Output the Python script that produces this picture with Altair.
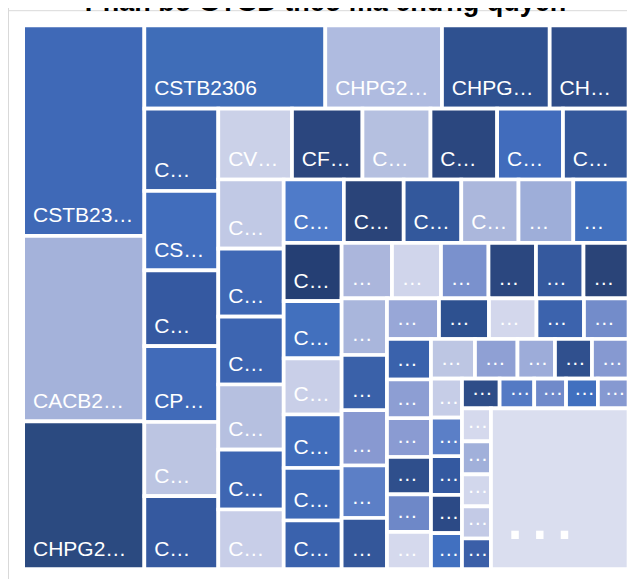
import altair as alt
import pandas as pd

TITLE = "Phân bổ GTGD theo mã chứng quyền"

# Covered-warrant codes, in the order the treemap lays them out ("Khác" = others)
codes = [
    "CSTB2305", "CACB2302", "CHPG2314",
    "CSTB2306", "CHPG2313", "CHPG2316", "CHPG2318",
    "CMWG2304", "CSTB2307", "CMBB2305", "CPOW2303", "CMSN2304", "CMWG2305",
    "CVRE2305", "CFPT2304", "CVHM2304", "CTCB2304", "CVNM2304", "CVIB2303",
    "CHPG2315", "CSTB2308", "CVPB2304", "CTPB2303", "CACB2304", "CFPT2305",
    "CMBB2306", "CVHM2305", "CNVL2302", "CVJC2302", "CKDH2303", "CDIG2302",
    "CMSN2305", "CPDR2302", "CGMD2302", "CMWG2306", "CSHB2301", "CLPB2302",
    "CVIC2302", "CDPM2301", "CSSB2301", "CVRE2306", "CTCB2305", "CVNM2305",
    "CHPG2317", "CSTB2309", "CMBB2307", "CVPB2305", "CPOW2304",
    "CACB2305", "CFPT2306", "CMSN2306", "CTPB2304", "CVHM2306",
    "CNVL2303", "CKDH2304", "CVJC2303", "CDIG2303", "CGMD2303", "CPDR2303",
    "CSHB2302", "CLPB2303", "CVIB2304", "CHPG2319", "CSTB2310",
    "CMWG2307", "CVRE2307", "CTCB2306", "CMBB2308", "CVNM2306",
    "CFPT2307", "CACB2306", "CVPB2306", "CPOW2305", "CMSN2307",
    "CVHM2307", "CTPB2305", "CDPM2302", "CSSB2302", "CVIC2303",
    "Khác",
]

# Trading value (GTGD), tỷ đồng - estimated from the tile areas
values = [
    25.494, 22.502, 17.900,
    15.064, 9.715, 8.966, 6.564,
    6.086, 5.864, 5.609, 5.609, 5.483, 5.398,
    5.218, 4.990, 4.816, 4.719, 4.662, 4.641,
    4.526, 4.441, 4.441, 4.264, 3.911, 3.901,
    3.811, 3.791, 3.649, 3.625, 3.471, 3.500,
    3.378, 3.315, 3.254, 3.100, 3.042, 2.819,
    2.794, 2.720, 2.636, 2.636, 2.636, 2.500,
    2.569, 2.506, 2.506, 2.381, 2.320,
    2.114, 2.033, 1.931, 1.931, 1.811,
    1.782, 1.705, 1.705, 1.646, 1.646, 1.643,
    1.747, 1.687, 1.489, 1.469, 1.451,
    1.205, 1.200, 1.195, 1.185, 1.120,
    1.118, 1.028, 0.946, 0.946, 0.910,
    0.957, 0.957, 0.928, 0.928, 0.889,
    22.111,
]

# Tile colours (style), one per code
colors = [
    "#3f69b7", "#a4b2da", "#2b4a80",
    "#3f6db8", "#afbbe0", "#2f5190", "#2f4d89",
    "#3a61a9", "#416dbc", "#3559a1", "#416bb9", "#bcc5e2", "#35599f",
    "#cbd1e8", "#2b467e", "#b5c0e0", "#2b477f", "#416cbc", "#34589b",
    "#c1c9e5", "#3f68b5", "#3d65b1", "#b6c0e0", "#3e66b2", "#c8cee8",
    "#4f7bc9", "#2a4479", "#33589c", "#abb7dc", "#9eaed9", "#4270bd",
    "#253f74", "#4270be", "#c9cfe8", "#416dbb", "#3e69b6", "#3a62ad",
    "#abb6dc", "#d0d5eb", "#7a91cd", "#2b477f", "#35599e", "#2a4478",
    "#a9b6dc", "#3a61a9", "#8899d1", "#5c7fc6", "#34579a",
    "#98a7d7", "#2e5190", "#d3d7ec", "#3c63ad", "#738cca",
    "#3a62ac", "#8d9ed3", "#8a9bd2", "#2f4f8c", "#6e88c8", "#d5d9ed",
    "#bdc6e3", "#8fa0d4", "#9dacd9", "#30508e", "#8699d1",
    "#c6cde7", "#5b7fc7", "#3459a0", "#2c4a86", "#4170c0",
    "#2e4d88", "#547ac4", "#708aca", "#4170bf", "#8699d1",
    "#d5d9ed", "#a1b0da", "#d2d7ec", "#c3cae6", "#3b5fa8",
    "#dadeef",
]

PLOT_W, PLOT_H = 619, 600                 # svg must not exceed the page width
MAP_X, MAP_Y, MAP_W, MAP_H = 15.15, 17.45, 605.4, 543.7
GAP = 3.7
LABEL_PAD = 8.0
LABEL_SIDE = 16.8
BASE_FS, OTHER_FS = 21, 78
ELLIPSIS_EM, C_ELLIPSIS_EM = 1.0, 1.722    # advance of "…" and "C…" in em
FRAME_X, FRAME_Y = 0.5, 2.7
TITLE_X, TITLE_Y = 317.5, 3.0


def squarify(vals, x, y, w, h):
    """Squarified treemap with alternating direction (column first)."""
    total = float(sum(vals))
    areas = [v * w * h / total for v in vals]
    out = []
    st = {"x": x, "y": y, "w": w, "h": h, "dir": 0}

    def place(row, last):
        s = sum(row)
        if st["dir"] == 0:
            cw = st["w"] if last else s / st["h"]
            cy = st["y"]
            for a in row:
                ch = a / cw
                out.append((st["x"], cy, st["x"] + cw, cy + ch))
                cy += ch
            st["x"] += cw
            st["w"] -= cw
        else:
            rh = st["h"] if last else s / st["w"]
            cx = st["x"]
            for a in row:
                rw = a / rh
                out.append((cx, st["y"], cx + rw, st["y"] + rh))
                cx += rw
            st["y"] += rh
            st["h"] -= rh
        st["dir"] = 1 - st["dir"]

    row = []
    for a in areas:
        if row:
            s = sum(row)
            side = st["h"] if st["dir"] == 0 else st["w"]
            # keep adding while the previous tile's aspect ratio does not worsen
            if s * (s + a) > row[-1] * side * side:
                place(row, False)
                row = []
        row.append(a)
    place(row, True)
    return out


cells = squarify(values, MAP_X, MAP_Y, MAP_W, MAP_H)
recs = []
for code, val, (x0, y0, x1, y1) in zip(codes, values, cells):
    fs = OTHER_FS if code == "Khác" else BASE_FS
    lim = (x1 - x0) - GAP - LABEL_SIDE
    tx = x0 + GAP / 2 + LABEL_PAD
    if lim < C_ELLIPSIS_EM * fs:
        # only the ellipsis is shown: keep it inside the tile
        tx = min(tx, x1 - GAP / 2 - 1 - ELLIPSIS_EM * fs)
    recs.append({
        "code": code, "value": val,
        "x0": x0, "x1": x1, "y0": y0, "y1": y1,
        "tx": tx,
        "ty": y1 - GAP / 2 - (5.6 + 0.291 * fs),
        "fs": fs,
        "lim": lim,
    })
df = pd.DataFrame(recs)

xs = alt.Scale(domain=[0, PLOT_W], nice=False, zero=False)
ys = alt.Scale(domain=[0, PLOT_H], nice=False, zero=False, reverse=True)

base = alt.Chart(df)
tiles = base.mark_rect(stroke="white", strokeWidth=GAP).encode(
    x=alt.X("x0:Q", scale=xs, axis=None),
    x2="x1",
    y=alt.Y("y0:Q", scale=ys, axis=None),
    y2="y1",
    color=alt.Color("code:N", scale=alt.Scale(domain=codes, range=colors), legend=None),
    tooltip=[alt.Tooltip("code:N", title="Mã CW"),
             alt.Tooltip("value:Q", title="GTGD (tỷ đồng)", format=".3f")],
)
labels = base.mark_text(
    align="left", baseline="alphabetic", color="white",
    font="Liberation Sans", limit={"expr": "datum.lim"},
).encode(
    x=alt.X("tx:Q", scale=xs, axis=None),
    y=alt.Y("ty:Q", scale=ys, axis=None),
    text="code:N",
    size=alt.Size("fs:Q", scale=None, legend=None),
)

one = alt.Chart(pd.DataFrame({"title": [TITLE]}))
frame_top = one.mark_rule(color="#d9d9d9", strokeWidth=1).encode(
    x=alt.value(0), x2=alt.value(PLOT_W), y=alt.value(FRAME_Y))
frame_left = one.mark_rule(color="#d9d9d9", strokeWidth=1).encode(
    x=alt.value(FRAME_X), y=alt.value(0), y2=alt.value(PLOT_H))
title = one.mark_text(
    font="Liberation Sans", fontSize=27, fontWeight="bold", color="#000000",
    align="center", baseline="alphabetic", clip=True,
).encode(text="title:N", x=alt.value(TITLE_X), y=alt.value(TITLE_Y))

chart = alt.layer(frame_top, frame_left, tiles, labels, title).properties(
    width=PLOT_W, height=PLOT_H,
    padding={"left": 0, "top": 0, "right": 0, "bottom": 0},
    autosize=alt.AutoSizeParams(type="none"),
).configure_view(stroke=None)

chart.save("out.html", embed_options={"renderer": "svg", "actions": False})
